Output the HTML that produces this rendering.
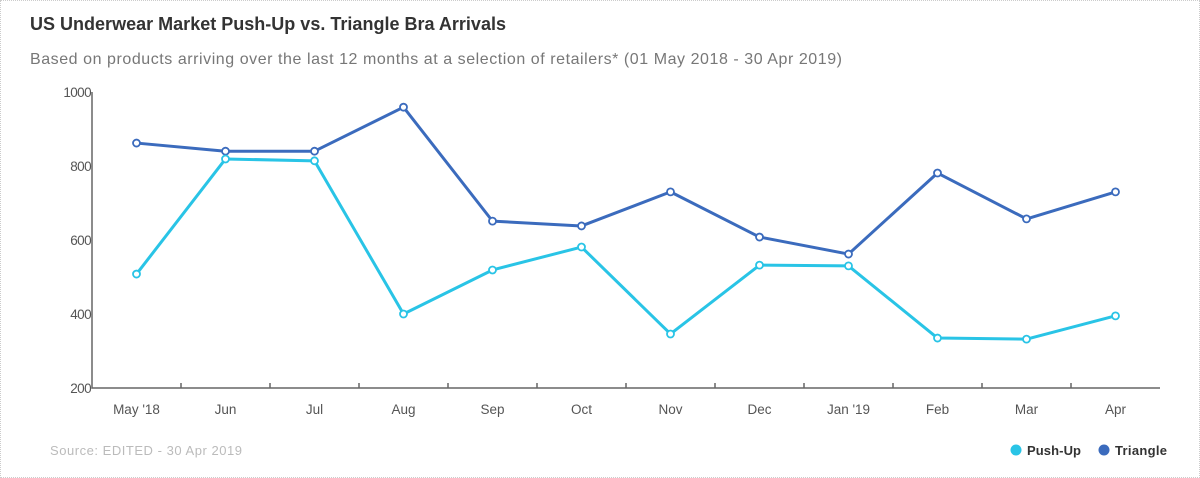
<!DOCTYPE html>
<html><head><meta charset="utf-8"><style>
body{margin:0;background:#fff;width:1200px;height:478px;overflow:hidden;font-family:"Liberation Sans",sans-serif;}
#wrap{position:absolute;left:0;top:0;width:1198px;height:476px;border:1px dotted #ccc;}
</style></head><body>
<div id="wrap"></div>
<svg id="chart" width="1200" height="478" style="position:absolute;left:0;top:0">
<text x="30" y="30" font-size="18" font-weight="bold" fill="#333" textLength="476">US Underwear Market Push-Up vs. Triangle Bra Arrivals</text>
<text x="30" y="64" font-size="16" fill="#777" textLength="812">Based on products arriving over the last 12 months at a selection of retailers* (01 May 2018 - 30 Apr 2019)</text>
<text x="50" y="455" font-size="13" fill="#bbb" textLength="192">Source: EDITED - 30 Apr 2019</text>
<g>
<circle cx="1016" cy="450" r="5.5" fill="#29c4e6"/>
<text x="1027" y="455" font-size="13" font-weight="bold" fill="#333" textLength="54">Push-Up</text>
<circle cx="1104" cy="450" r="5.5" fill="#3b6bbd"/>
<text x="1115" y="455" font-size="13" font-weight="bold" fill="#333" textLength="52">Triangle</text>
</g>
<g id="plot"></g>
</svg>
<script>
const categories=["May '18","Jun","Jul","Aug","Sep","Oct","Nov","Dec","Jan '19","Feb","Mar","Apr"];
const pushUp=[508,819,814,400,519,581,346,532,530,335,332,395];
const triangle=[862,840,840,959,651,638,730,608,562,781,657,730];
const yTicks=[200,400,600,800,1000];
const NS="http://www.w3.org/2000/svg";
const g=document.getElementById('plot');
const L=92,R=1160,T=92,B=388,yMin=200,yMax=1000;
const band=(R-L)/categories.length;
const x=i=>L+band*(i+0.5);
const y=v=>B-(v-yMin)/(yMax-yMin)*(B-T);
function mk(t,a){const e=document.createElementNS(NS,t);for(const k in a)e.setAttribute(k,a[k]);g.appendChild(e);return e;}
let ax=mk('path',{d:`M${L} ${T}V${B}H${R}`,fill:'none',stroke:'#666','stroke-width':1.5});


yTicks.forEach(v=>{
 const t=mk('text',{x:L-1,y:y(v)+5,'font-size':13.5,fill:'#555','text-anchor':'end','letter-spacing':'-0.6'});
 t.textContent=v;
 
 
});
categories.forEach((c,i)=>{
 if(i>0){const tk=mk('line',{x1:L+band*i,x2:L+band*i,y1:B-5,y2:B,stroke:'#666','stroke-width':1.5});
 
 }
 const t=mk('text',{x:x(i),y:B+26,'font-size':13.5,fill:'#555','text-anchor':'middle'});
 t.textContent=c;
 
 
});
function series(vals,col,name){
 const p=mk('polyline',{points:vals.map((v,i)=>x(i)+','+y(v)).join(' '),fill:'none',stroke:col,'stroke-width':3,'stroke-linejoin':'round'});
 
 
 vals.forEach((v,i)=>{
  const c=mk('circle',{cx:x(i),cy:y(v),r:3.5,fill:'#fff',stroke:col,'stroke-width':1.8});
  
  
 });
}
series(triangle,'#3b6bbd','triangle');
series(pushUp,'#29c4e6','push-up');
</script>
</body></html>
